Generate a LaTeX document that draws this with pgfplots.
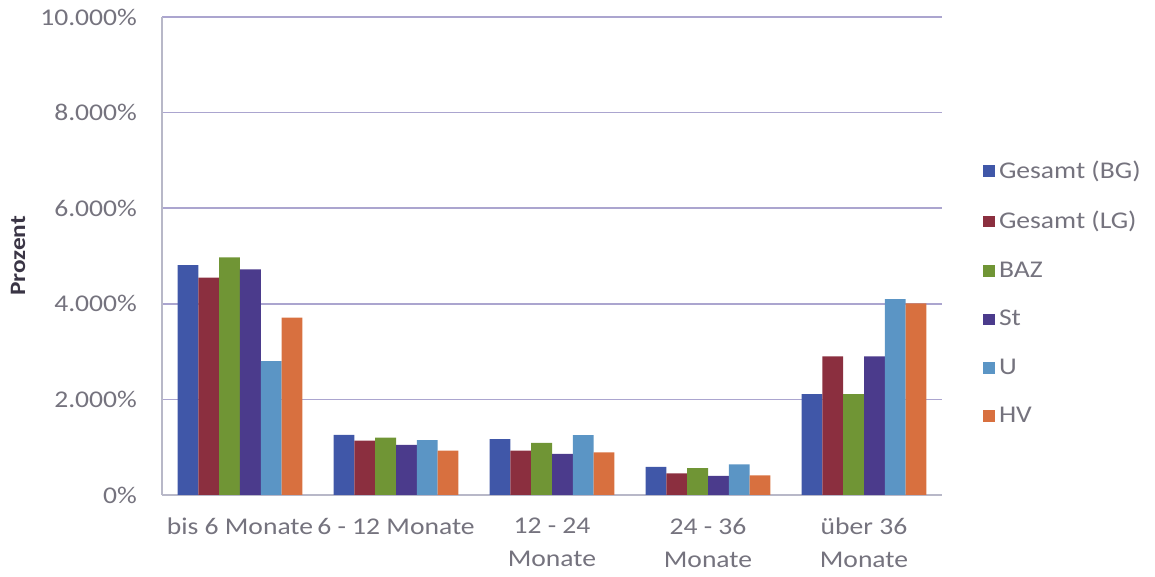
\documentclass[border=0pt]{standalone}
\usepackage{fontspec}
\setmainfont[FakeStretch=1.15]{Carlito}
\usepackage{pgfplots}
\pgfplotsset{compat=1.18}
\definecolor{cBG}{HTML}{4057A8}
\definecolor{cLG}{HTML}{8B2F3F}
\definecolor{cBAZ}{HTML}{709535}
\definecolor{cSt}{HTML}{4B3B8C}
\definecolor{cU}{HTML}{5B95C5}
\definecolor{cHV}{HTML}{D8703F}
\definecolor{gridc}{HTML}{ABA5CF}
\definecolor{axisc}{HTML}{B8B8C8}
\definecolor{tickc}{HTML}{75737E}
\definecolor{labc}{HTML}{3A3545}
\begin{document}
\begin{tikzpicture}
\begin{axis}[
  name=ax,
  width=390pt, height=239pt, scale only axis,
  ybar=0pt, bar width=10.4pt,
  xmin=-0.5, xmax=4.5, ymin=0, ymax=10,
  xtick={0,1,2,3,4},
  xticklabels={bis 6 Monate,6 - 12 Monate,12 - 24\\Monate,24 - 36\\Monate,über 36\\Monate},
  ytick={0,2,4,6,8,10},
  yticklabels={0\%,2.000\%,4.000\%,6.000\%,8.000\%,10.000\%},
  ymajorgrids,
  major grid style={color=gridc, line width=0.8pt},
  axis lines*=left,
  axis line style={color=axisc, line width=0.8pt},
  major tick length=0pt,
  tick label style={color=tickc, font=\fontsize{12}{16.5}\selectfont},
  xticklabel style={align=center, anchor=north, yshift=-8pt},
  yticklabel style={anchor=east, xshift=-9pt},
  ylabel={Prozent},
  ylabel style={at={(axis description cs:-0.1846,0.5)}, anchor=center, font=\fontsize{11}{13}\selectfont\bfseries, color=labc},
  legend style={draw=none, fill=none, inner sep=0pt, at={(1.0526,0.4226)}, anchor=west,
    font=\fontsize{12}{14}\selectfont, text=tickc, row sep=11pt, cells={anchor=west}},
  legend image code/.code={\fill[#1] (0pt,-2.9pt) rectangle (5.8pt,2.9pt);},
  every axis plot/.append style={draw=none},
]
\addplot[fill=cBG] coordinates {(0,4.81) (1,1.26) (2,1.17) (3,0.59) (4,2.11)};
\addplot[fill=cLG] coordinates {(0,4.55) (1,1.14) (2,0.93) (3,0.45) (4,2.90)};
\addplot[fill=cBAZ] coordinates {(0,4.97) (1,1.20) (2,1.09) (3,0.56) (4,2.11)};
\addplot[fill=cSt] coordinates {(0,4.72) (1,1.05) (2,0.86) (3,0.40) (4,2.90)};
\addplot[fill=cU] coordinates {(0,2.80) (1,1.15) (2,1.25) (3,0.64) (4,4.10)};
\addplot[fill=cHV] coordinates {(0,3.71) (1,0.93) (2,0.89) (3,0.41) (4,4.01)};
\legend{Gesamt (BG),Gesamt (LG),BAZ,St,U,HV}
\end{axis}
\pgfresetboundingbox
\path[use as bounding box] ([xshift=-81pt,yshift=-41pt]ax.south west) rectangle ([xshift=106.5pt,yshift=8.5pt]ax.north east);
\end{tikzpicture}
\end{document}
